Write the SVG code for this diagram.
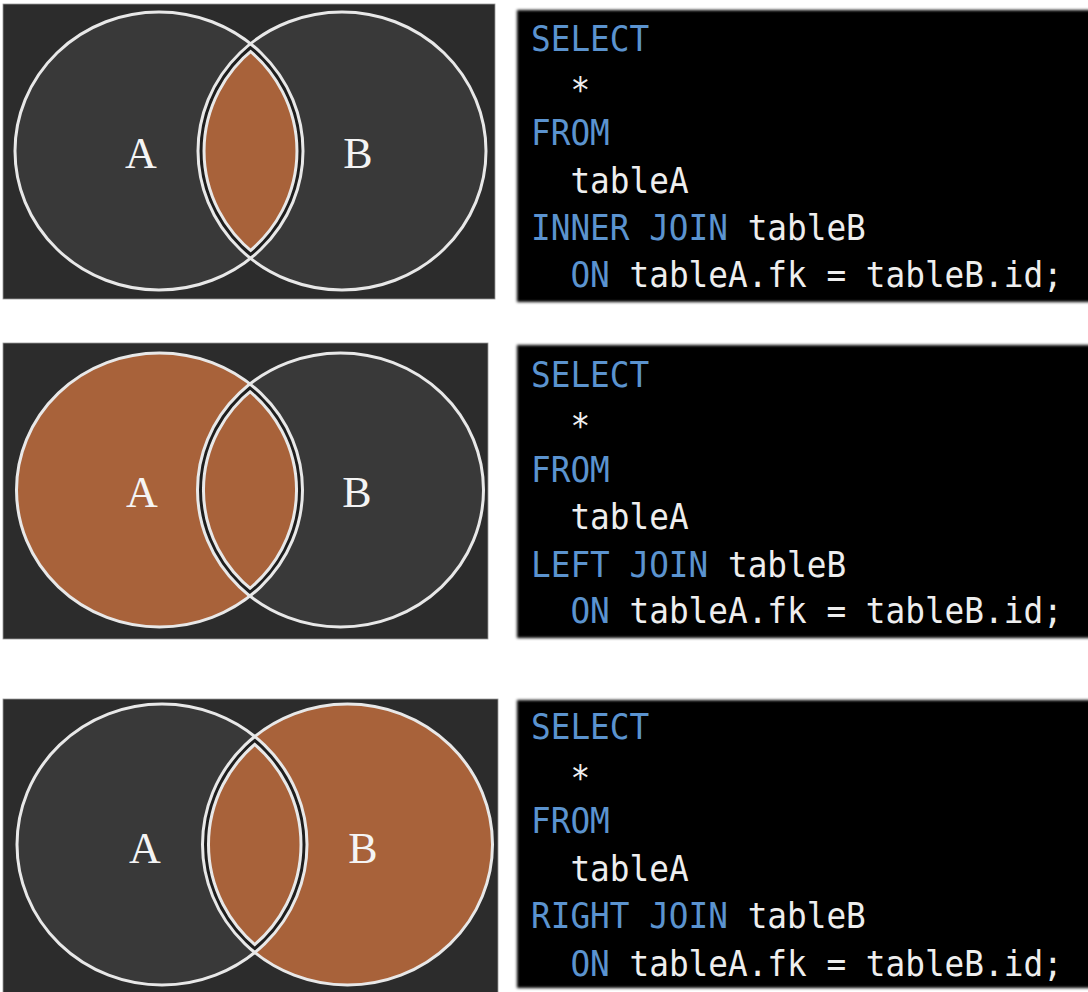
<svg xmlns="http://www.w3.org/2000/svg" width="1088" height="992" viewBox="0 0 1088 992">
<style>
.panel{fill:#2c2c2c;stroke:#9a9a9a;stroke-width:0.8}
.circ{fill:#393939}
.org{fill:#a8623a}
.ring{fill:none;stroke:#e8e8e8;stroke-width:3}
.lensw{fill:none;stroke:#e8e8e8;stroke-width:15}
.lensd{fill:none;stroke:#1e1e1e;stroke-width:9}
.lbl{font-family:"Liberation Serif","Times New Roman",serif;font-size:44px;fill:#f4f4f4;text-anchor:middle}
.box{fill:#000}
.code{font-family:"DejaVu Sans Mono","Liberation Mono",monospace;font-size:35.5px;fill:#eeeeee}
.kw{fill:#5b93cf}
</style>
<defs>
<filter id="soft" x="-5%" y="-10%" width="110%" height="120%"><feGaussianBlur stdDeviation="1.8"/></filter>
<path id="lens1" d="M250.5 43.7 A144 139 0 0 1 250.5 258.3 A144 139 0 0 1 250.5 43.7 Z"/>
<path id="lens2" d="M250 383.9 A143 137 0 0 1 250 596.1 A143 137 0 0 1 250 383.9 Z"/>
<path id="lens3" d="M254.75 736.5 A145 140.5 0 0 1 254.75 952.5 A145 140.5 0 0 1 254.75 736.5 Z"/>
<clipPath id="c1"><use href="#lens1"/></clipPath>
<clipPath id="c2"><use href="#lens2"/></clipPath>
<clipPath id="c3"><use href="#lens3"/></clipPath>
</defs>

<g id="venn-inner">
<rect class="panel" x="3" y="4" width="492" height="295"/>
<ellipse class="circ" cx="159" cy="151" rx="144" ry="139"/>
<ellipse class="circ" cx="342" cy="151" rx="144" ry="139"/>
<use href="#lens1" class="org"/>
<g clip-path="url(#c1)"><use href="#lens1" class="lensw"/><use href="#lens1" class="lensd"/></g>
<ellipse class="ring" cx="159" cy="151" rx="144" ry="139"/>
<ellipse class="ring" cx="342" cy="151" rx="144" ry="139"/>
<text class="lbl" x="141" y="168">A</text>
<text class="lbl" x="358" y="168">B</text>
</g>

<g id="venn-left">
<rect class="panel" x="3" y="343" width="485" height="296"/>
<ellipse class="org" cx="159.5" cy="490" rx="143" ry="137"/>
<ellipse class="circ" cx="340.5" cy="490" rx="143" ry="137"/>
<use href="#lens2" class="org"/>
<g clip-path="url(#c2)"><use href="#lens2" class="lensw"/><use href="#lens2" class="lensd"/></g>
<ellipse class="ring" cx="159.5" cy="490" rx="143" ry="137"/>
<ellipse class="ring" cx="340.5" cy="490" rx="143" ry="137"/>
<text class="lbl" x="142" y="507">A</text>
<text class="lbl" x="357" y="507">B</text>
</g>

<g id="venn-right">
<rect class="panel" x="3" y="699" width="495" height="296"/>
<ellipse class="circ" cx="162" cy="844.5" rx="145" ry="140.5"/>
<ellipse class="org" cx="347.5" cy="844.5" rx="145" ry="140.5"/>
<use href="#lens3" class="org"/>
<g clip-path="url(#c3)"><use href="#lens3" class="lensw"/><use href="#lens3" class="lensd"/></g>
<ellipse class="ring" cx="162" cy="844.5" rx="145" ry="140.5"/>
<ellipse class="ring" cx="347.5" cy="844.5" rx="145" ry="140.5"/>
<text class="lbl" x="145" y="863">A</text>
<text class="lbl" x="363" y="863">B</text>
</g>

<g id="code-inner">
<rect class="box" x="517" y="10" width="590" height="292" filter="url(#soft)"/>
<text class="code" transform="translate(531,51) scale(0.922,1)"><tspan class="kw">SELECT</tspan></text>
<text class="code" transform="translate(570.4,102) scale(0.922,1)">*</text>
<text class="code" transform="translate(531,145) scale(0.922,1)"><tspan class="kw">FROM</tspan></text>
<text class="code" transform="translate(570.4,193) scale(0.922,1)">tableA</text>
<text class="code" transform="translate(531,240) scale(0.922,1)"><tspan class="kw">INNER JOIN</tspan> tableB</text>
<text class="code" transform="translate(570.4,287) scale(0.922,1)"><tspan class="kw">ON</tspan> tableA.fk = tableB.id;</text>
</g>

<g id="code-left">
<rect class="box" x="517" y="345" width="590" height="293" filter="url(#soft)"/>
<text class="code" transform="translate(531,387) scale(0.922,1)"><tspan class="kw">SELECT</tspan></text>
<text class="code" transform="translate(570.4,438) scale(0.922,1)">*</text>
<text class="code" transform="translate(531,482) scale(0.922,1)"><tspan class="kw">FROM</tspan></text>
<text class="code" transform="translate(570.4,529) scale(0.922,1)">tableA</text>
<text class="code" transform="translate(531,577) scale(0.922,1)"><tspan class="kw">LEFT JOIN</tspan> tableB</text>
<text class="code" transform="translate(570.4,623) scale(0.922,1)"><tspan class="kw">ON</tspan> tableA.fk = tableB.id;</text>
</g>

<g id="code-right">
<rect class="box" x="517" y="700" width="590" height="288" filter="url(#soft)"/>
<text class="code" transform="translate(531,739) scale(0.922,1)"><tspan class="kw">SELECT</tspan></text>
<text class="code" transform="translate(570.4,790) scale(0.922,1)">*</text>
<text class="code" transform="translate(531,833) scale(0.922,1)"><tspan class="kw">FROM</tspan></text>
<text class="code" transform="translate(570.4,881) scale(0.922,1)">tableA</text>
<text class="code" transform="translate(531,928) scale(0.922,1)"><tspan class="kw">RIGHT JOIN</tspan> tableB</text>
<text class="code" transform="translate(570.4,976) scale(0.922,1)"><tspan class="kw">ON</tspan> tableA.fk = tableB.id;</text>
</g>
</svg>
